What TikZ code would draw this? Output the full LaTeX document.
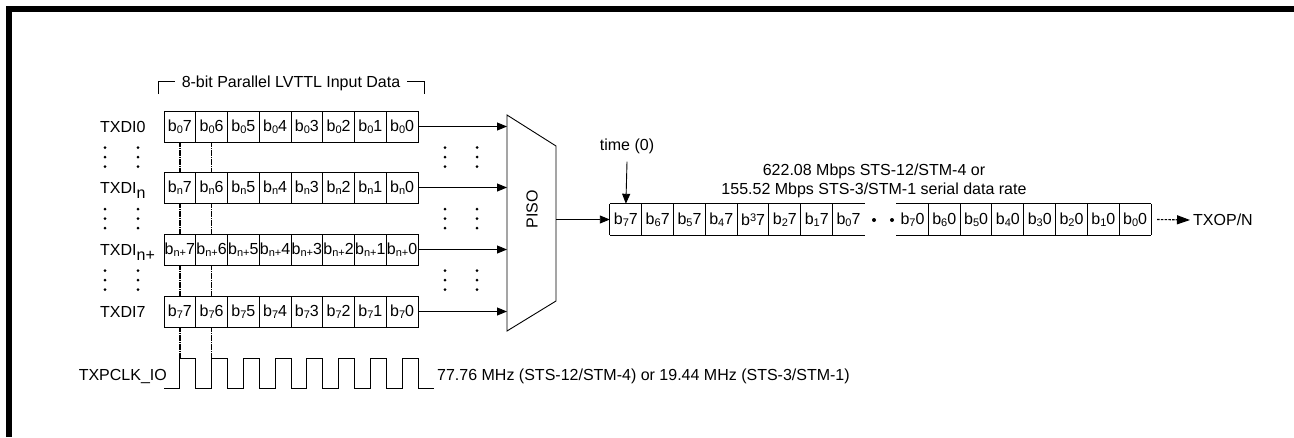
\documentclass[tikz,border=0pt]{standalone}
\usepackage{fontspec}
\setmainfont{Liberation Sans}
\usetikzlibrary{arrows.meta,calc}
\newcommand\sbs[1]{\raisebox{-2.2pt}{\fontsize{11}{11}\selectfont #1}}
\newcommand\sps[1]{\raisebox{4pt}{\fontsize{11}{11}\selectfont #1}}
\newcommand\lsub[1]{\raisebox{-5pt}{#1}}
\begin{document}
\begin{tikzpicture}[x=1pt,y=-1pt,
  every node/.style={font=\fontsize{16}{19}\selectfont, inner sep=0pt},
  cell/.style={draw, line width=0.9pt, minimum width=31.75pt, minimum height=31pt, anchor=center},
  scell/.style={minimum width=31.8pt, minimum height=31pt, anchor=center},
  conn/.style={line width=0.9pt},
  arr/.style={conn, -{Triangle[length=10pt,width=8pt]}},
  dotv/.style={line width=1.6pt, dash pattern=on 1.3pt off 0.5pt},
]
\useasboundingbox (0,0) rectangle (1294,437);
% frame
\draw[line width=6pt, line join=miter] (9,437) -- (9,9) -- (1294,9);
% bracket title
\node[anchor=base] (brk) at (291,87.7) {8-bit Parallel LVTTL Input Data};
\draw[conn] (158,94) -- (158,81.5) -- (175,81.5);
\draw[conn] (407,81.5) -- (424,81.5) -- (424,94);
% parallel rows
\foreach \r/\yy/\s in {0/126.5/0, 1/187.5/n, 2/249.5/n+, 3/311.5/7} {
  \foreach \i in {0,...,7} {
    \pgfmathtruncatemacro\bit{7-\i}
    \node[cell] (r\r c\i) at ({179.875+31.75*\i}, \yy) {b\sbs{\s}\bit};
  }
}
\node[anchor=base west] (l0) at (100,132.2) {TXDI0};
\node[anchor=base west] (l1) at (100,193.2) {TXDI\lsub{n}};
\node[anchor=base west] (l2) at (100,255.2) {TXDI\lsub{n+}};
\node[anchor=base west] (l3) at (100,317.2) {TXDI7};
% vertical dots
\foreach \yc in {157,218.5,280}
  \foreach \xc in {105,138,445,477}
    \foreach \d in {-9.5,0,9.5}
      \fill (\xc,{\yc+\d}) circle (1.5pt);
% clock
\coordinate (ckh) at (0,358);
\draw[conn] (164,388) \foreach \k in {0,...,7} { -- ({179.875+31.75*\k},388) -- ({179.875+31.75*\k},358) -- ({195.75+31.75*\k},358) -- ({195.75+31.75*\k},388) } -- (434,388);
\node[anchor=base east] (ckl) at (167,380) {TXPCLK\_IO};
\node[anchor=base west] (ckt) at (437,380) {77.76 MHz (STS-12/STM-4) or 19.44 MHz (STS-3/STM-1)};
% dotted verticals
\foreach \c in {0,1} {
  \draw[dotv] (r0c\c.south) -- (r1c\c.north);
  \draw[dotv] (r1c\c.south) -- (r2c\c.north);
  \draw[dotv] (r2c\c.south) -- (r3c\c.north);
  \draw[dotv] (r3c\c.south) -- (r3c\c.south |- ckh);
}
% PISO
\coordinate (p1) at (507,115);
\coordinate (p2) at (556,146);
\coordinate (p3) at (556,301);
\coordinate (p4) at (507,331);
\draw[conn] (p1) -- (p2) -- (p3) -- (p4) -- cycle;
\node[rotate=90] (piso) at (532,209) {PISO};
\foreach \r in {0,...,3} \draw[arr] (r\r c7.east) -- (r\r c7.east -| p1);
% serial strip
\foreach \i in {0,...,7} {
  \pgfmathtruncatemacro\bit{7-\i}
  \ifnum\bit=3
    \node[scell] (s\i) at ({610+15.9+31.8*\i},219.5) {b\sps{\bit}7};
  \else
    \node[scell] (s\i) at ({610+15.9+31.8*\i},219.5) {b\sbs{\bit}7};
  \fi
  \node[scell] (t\i) at ({896.6+15.9+31.8*\i},219.5) {b\sbs{\bit}0};
}
\coordinate (po) at (556,219.5);
\draw[arr] (po) -- (s0.west);
\draw[conn] (s0.north west) -- (s7.north east);
\draw[conn] (s0.south west) -- (s7.south east);
\foreach \i in {0,...,7} \draw[conn] (s\i.north west) -- (s\i.south west);
\draw[conn] (t0.north west) -- (t7.north east);
\draw[conn] (t0.south west) -- (t7.south east);
\foreach \i in {1,...,7} \draw[conn] (t\i.north west) -- (t\i.south west);
\draw[conn] (t7.north east) -- (t7.south east);
\fill (874,220) circle (2pt);
\fill (892,220) circle (2pt);
% time arrow
\node (time) at (627,146) {time (0)};
\draw[arr] ($(time.south)+(0,8)$) -- (s0.north);
% rate
\node[align=center, font=\fontsize{16}{19.5}\selectfont] (rate) at (874,181) {622.08 Mbps STS-12/STM-4 or\\155.52 Mbps STS-3/STM-1 serial data rate};
% output
\node[anchor=west] (txop) at (1193,220) {TXOP/N};
\draw[conn, line width=1.1pt, dash pattern=on 2.5pt off 1.2pt, -{Triangle[length=13pt,width=9pt]}] ($(t7.east)+(6,0)$) -- ($(txop.west)+(-3,0)$);
\end{tikzpicture}
\end{document}
